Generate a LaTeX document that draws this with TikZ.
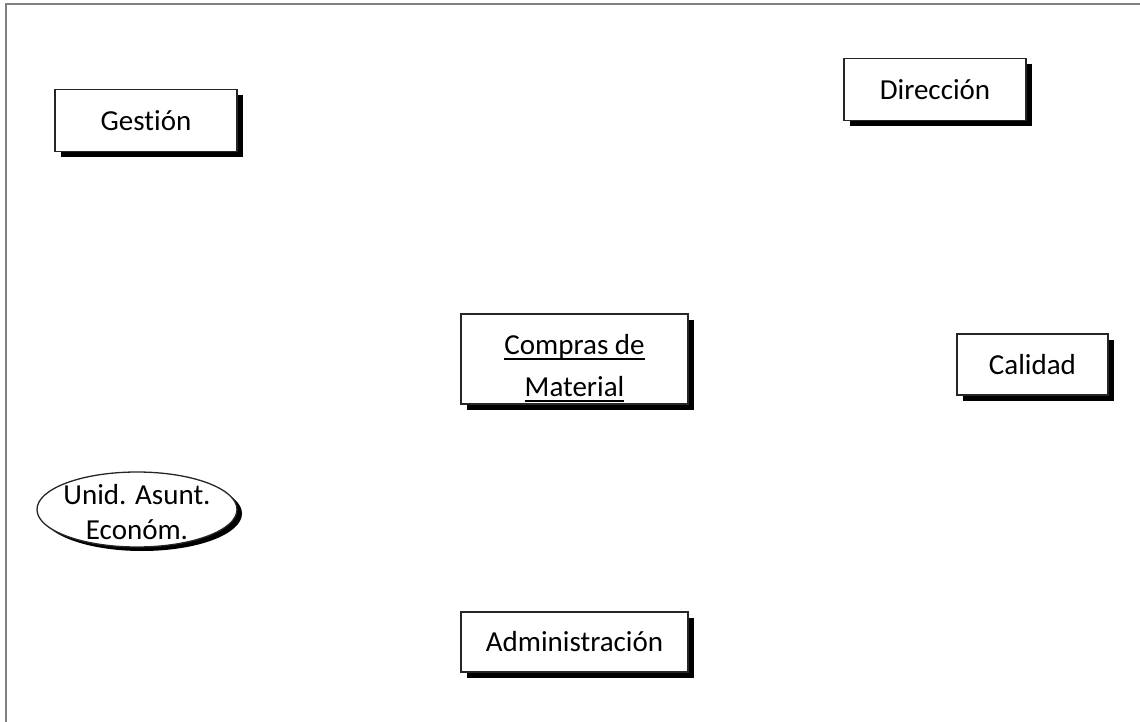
\documentclass[tikz,border=0pt]{standalone}
\usepackage{fontspec}
\setmainfont[Ligatures=NoCommon]{Carlito}
\usetikzlibrary{shadows,shapes.geometric}
\newcommand\ulinetxt[1]{\setbox0\hbox{#1}\rlap{\rule[-5pt]{\wd0}{1.4pt}}\box0}
\begin{document}
\begin{tikzpicture}
[x=1pt,y=-1pt,every node/.style={inner sep=0pt, align=center, font=\fontsize{29}{42}\selectfont},
 shadowed/.style={draw=black!85, line width=1.3pt, fill=white,
  drop shadow={shadow xshift=6pt, shadow yshift=-6pt, fill=black, opacity=1}},
 unitbox/.style={shadowed, rectangle, minimum width=182pt, minimum height=62pt},
 unitoval/.style={draw=black!85, line width=1.3pt, fill=white, ellipse, minimum width=200pt, minimum height=75pt,
  drop shadow={shadow xshift=5pt, shadow yshift=-4pt, fill=black, opacity=1}},
 unittext/.style={font=\fontsize{29}{35}\selectfont}]
\def \W {1140}
\def \H {722}
\useasboundingbox (0,0) rectangle (\W,\H);
% frame of the page, only top and left show
\draw[line width=2.5pt, black!50] (\W,4) -- (6,4) -- (6,\H);
\node[unitbox] (gestion) at (146,120.5) {Gestión};
\node[unitbox] (direccion) at (935,89.5) {Dirección};
\node[unitbox, minimum width=227pt, minimum height=90pt] (compras) at (574.5,359) {};
\node (comprastxt) at ([yshift=-9pt]compras.center) {\ulinetxt{Compras de}\\\ulinetxt{Material}};
\node[unitbox, minimum width=151pt, minimum height=61pt] (calidad) at (1032.5,364.5) {Calidad};
\node[unitoval] (unidad) at (137,509.5) {};
\node[unittext] (unidadtxt) at (137,512) {Unid. Asunt.\\Económ.};
\node[unitbox, minimum width=227pt, minimum height=60pt] (admin) at (574.5,642) {Administración};
\end{tikzpicture}
\end{document}
